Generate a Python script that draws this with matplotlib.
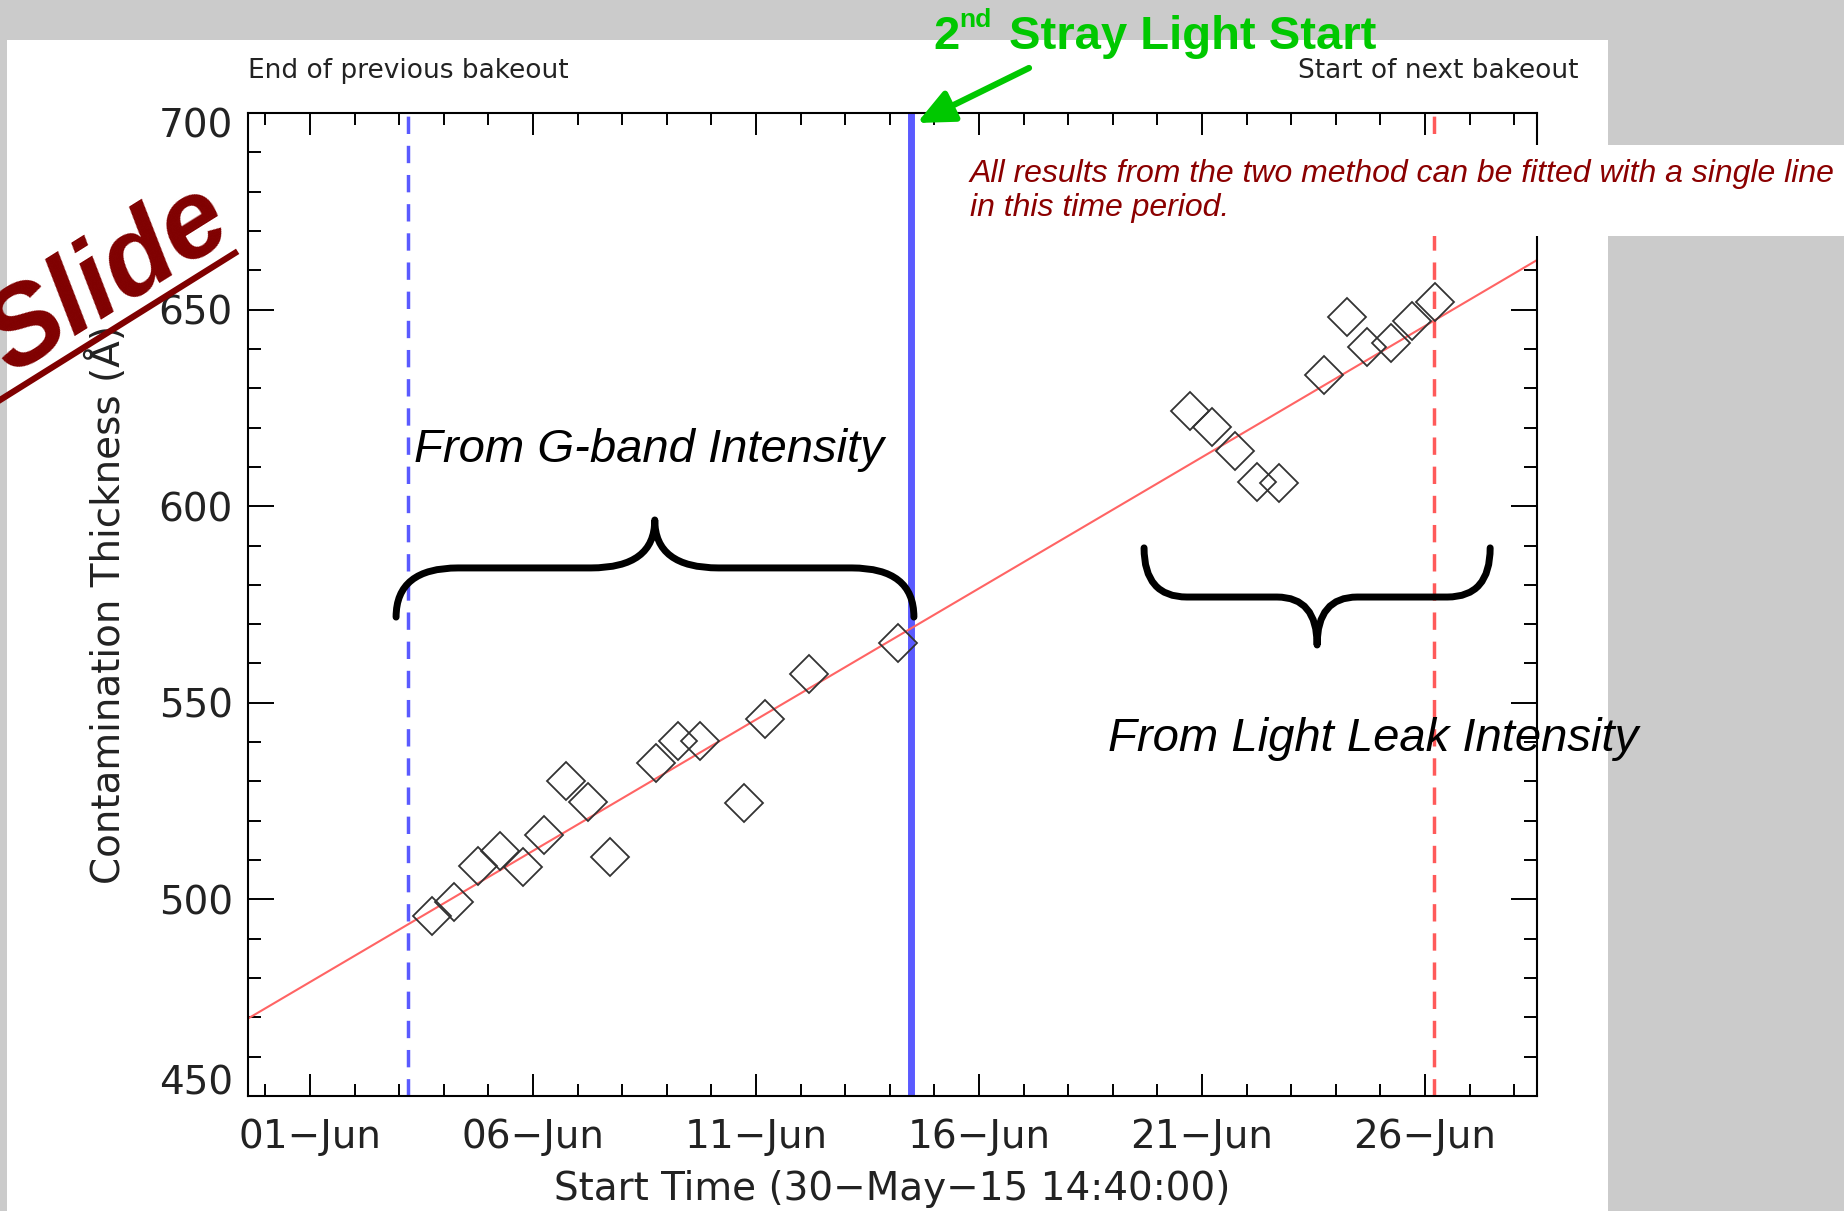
import numpy as np
import pandas as pd
import matplotlib
matplotlib.use("Agg")
import matplotlib.pyplot as plt
import matplotlib.dates as mdates
from matplotlib.patches import Rectangle, PathPatch, FancyArrowPatch
from matplotlib.path import Path
from matplotlib.lines import Line2D
from matplotlib.transforms import ScaledTranslation

# --- data (days after start time, thickness in Angstrom) ---
start = pd.Timestamp("2015-05-30 14:40:00")

gband_days = [4.13, 4.62, 5.16, 5.66, 6.16, 6.64, 7.13, 7.63, 8.12,
              9.15, 9.64, 10.14, 11.13, 11.60, 12.58, 14.58]
gband_thick = [495.9, 499.4, 508.6, 512.2, 508.2, 516.3, 530.0, 524.8, 510.7,
               534.8, 540.2, 540.2, 524.5, 546.0, 557.4, 565.1]

leak_days = [21.12, 21.62, 22.12, 22.62, 23.12, 24.13, 24.63, 25.08,
             25.62, 26.09, 26.61]
leak_thick = [624.3, 620.2, 614.1, 606.2, 605.8, 633.3, 648.2, 640.4,
              641.4, 647.2, 652.0]

fit_days = [0.0, 28.9]
fit_thick = [469.7, 662.6]

bakeout_end_day = 3.59
stray_light_day = 14.87
bakeout_next_day = 26.58
xlim_days = [0.0, 28.9]
ylim = [450, 700]

W, H = 1844, 1211
t0 = mdates.date2num(start)
def dn(d):
    return t0 + np.asarray(d, dtype=float)

plt.rcParams["font.family"] = "DejaVu Sans"
plt.rcParams["lines.scale_dashes"] = False

fig = plt.figure(figsize=(W / 100, H / 100), dpi=100, facecolor="#cbcbcb")

# white slide panel
fig.add_artist(Rectangle((7 / W, 0), (1608 - 7) / W, 1 - 40 / H, transform=fig.transFigure,
                         facecolor="white", edgecolor="none", zorder=-5))

ax = fig.add_axes([248 / W, 1 - 1096 / H, (1537 - 248) / W, (1096 - 113) / H])
ax.set_facecolor("white")

ax.plot(dn(fit_days), fit_thick, color="#ff6464", lw=1.5, zorder=2)
ax.plot(dn(gband_days), gband_thick, "D", ms=19, mfc="none", mec="#333333", mew=1.3, zorder=3)
ax.plot(dn(leak_days), leak_thick, "D", ms=19, mfc="none", mec="#333333", mew=1.3, zorder=3)

ax.axvline(dn(bakeout_end_day), color="#5a5aff", lw=2.5, dashes=(12.5, 8.5), zorder=1)
ax.axvline(dn(stray_light_day), color="#5a5aff", lw=5, zorder=1)
ax.axvline(dn(bakeout_next_day), color="#ff5a5a", lw=2.5, dashes=(12.5, 8.5), zorder=1)

ax.set_xlim(dn(xlim_days))
ax.set_ylim(ylim)

ax.xaxis.set_major_locator(mdates.DayLocator(bymonthday=[1, 6, 11, 16, 21, 26]))
ax.xaxis.set_minor_locator(mdates.DayLocator())
ax.xaxis.set_major_formatter(mdates.DateFormatter("%d\u2212%b"))
ax.yaxis.set_major_locator(plt.MultipleLocator(50))
ax.yaxis.set_minor_locator(plt.MultipleLocator(10))

ax.tick_params(which="both", direction="in", top=True, right=True, colors="black",
               labelcolor="#222222", labelsize=28, width=1.4)
ax.tick_params(axis="x", which="major", length=16, pad=16)
ax.tick_params(axis="x", which="minor", length=8.5)
ax.tick_params(axis="y", which="major", length=19, pad=11)
ax.tick_params(axis="y", which="minor", length=9.5)
for s in ax.spines.values():
    s.set_linewidth(1.5)

ax.set_xlabel("Start Time (30\u2212May\u221215 14:40:00)", fontsize=28, color="#222222")
ax.set_ylabel("Contamination Thickness (\u00c5)", fontsize=28, color="#222222")
ax.xaxis.set_label_coords(0.5, -0.075)
ax.yaxis.set_label_coords(-0.093, 0.5)

ax.text(0.0, 1.043, "End of previous bakeout", transform=ax.transAxes, fontsize=19,
        color="#222222", ha="left", va="center")
ax.text(1.032, 1.043, "Start of next bakeout", transform=ax.transAxes, fontsize=19,
        color="#222222", ha="right", va="center")


# curly braces
def brace(x0, x1, xm, y_end, y_bar, y_tip, r_end, r_tip):
    x0, x1, xm = dn(x0), dn(x1), dn(xm)
    verts = [(x0, y_end), (x0, y_bar), (x0 + r_end, y_bar),
             (xm - r_tip, y_bar), (xm, y_bar), (xm, y_tip),
             (xm, y_bar), (xm + r_tip, y_bar),
             (x1 - r_end, y_bar), (x1, y_bar), (x1, y_end)]
    codes = [Path.MOVETO, Path.CURVE3, Path.CURVE3, Path.LINETO, Path.CURVE3, Path.CURVE3,
             Path.CURVE3, Path.CURVE3, Path.LINETO, Path.CURVE3, Path.CURVE3]
    ax.add_patch(PathPatch(Path(verts, codes), facecolor="none", edgecolor="black",
                           lw=5, capstyle="round", joinstyle="round", zorder=4, clip_on=False))

brace(3.32, 14.93, 9.12, 571.8, 584.3, 596.5, 1.39, 1.43)
brace(20.09, 27.85, 23.97, 589.4, 576.9, 564.7, 0.96, 0.9)

fig.text(414 / W, 1 - 450 / H, "From G-band Intensity", fontsize=34, style="italic",
         family="Liberation Sans", color="black", ha="left", va="center")
fig.text(1108 / W, 1 - 739 / H, "From Light Leak Intensity", fontsize=34, style="italic",
         family="Liberation Sans", color="black", ha="left", va="center", zorder=6)

# white note box
fig.add_artist(Rectangle((950 / W, 1 - 236 / H), 1 - 950 / W, 91 / H, transform=fig.transFigure,
                         facecolor="white", edgecolor="none", zorder=10))
fig.text(970 / W, 1 - 191 / H,
         "All results from the two method can be fitted with a single line\nin this time period.",
         fontsize=23, style="italic", family="Liberation Sans", color="#8b0000",
         ha="left", va="center", linespacing=1.15, zorder=11)

# green title + arrow
green = "#00c800"
fig.text(933 / W, 1 - 49 / H, "2", fontsize=34, weight="bold", family="Liberation Sans",
         color=green, va="baseline", zorder=11)
fig.text(959 / W, 1 - 27 / H, "nd", fontsize=19, weight="bold", family="Liberation Sans",
         color=green, va="baseline", zorder=11)
fig.text(1009 / W, 1 - 49 / H, "Stray Light Start", fontsize=34, weight="bold",
         family="Liberation Sans", color=green, va="baseline", zorder=11)
fig.add_artist(FancyArrowPatch(
    (1029 / W, 1 - 68 / H), (917 / W, 1 - 123 / H), transform=fig.transFigure,
    arrowstyle="-|>,head_length=0.55,head_width=0.25", mutation_scale=40,
    color=green, lw=4.5, shrinkA=0, shrinkB=0, zorder=11))

# "Slide" stamp
fig.text(108 / W, 1 - 280 / H, "Slide", fontsize=80, weight="bold", style="italic",
         family="Liberation Sans", color="#800000", rotation=32, rotation_mode="anchor",
         ha="center", va="center", zorder=12)
fig.add_artist(Line2D([0, 235 / W], [1 - 400 / H, 1 - 253 / H], transform=fig.transFigure,
                      color="#800000", lw=4.5, zorder=12))

# nudge the end y labels inward like the original
fig.canvas.draw()
for tick in ax.yaxis.get_major_ticks():
    lab = tick.label1
    if np.isclose(tick.get_loc(), ylim[1]):
        lab.set_transform(lab.get_transform() + ScaledTranslation(0, -7 / 72, fig.dpi_scale_trans))
    elif np.isclose(tick.get_loc(), ylim[0]):
        lab.set_transform(lab.get_transform() + ScaledTranslation(0, 12 / 72, fig.dpi_scale_trans))

fig.savefig("out.png", dpi=100, facecolor=fig.get_facecolor())
